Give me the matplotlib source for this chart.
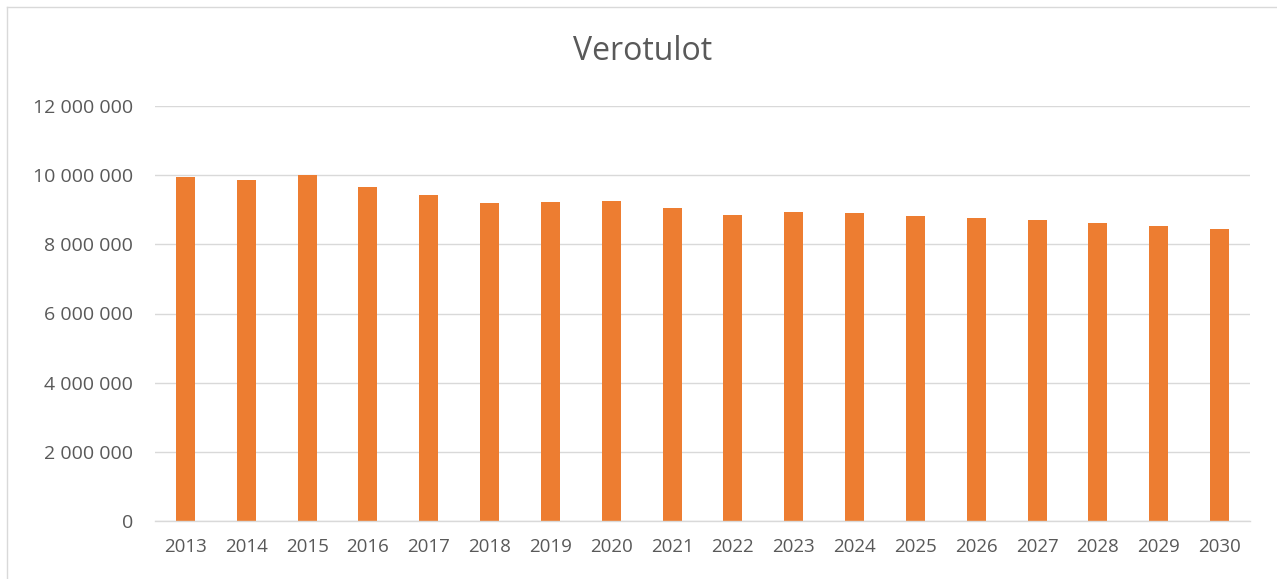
import matplotlib
matplotlib.use("Agg")
import matplotlib.pyplot as plt
import matplotlib.ticker as ticker
from matplotlib.lines import Line2D
import numpy as np

# ── Data ─────────────────────────────────────────────────────────────────────
years = ["2013", "2014", "2015", "2016", "2017", "2018", "2019", "2020", "2021",
         "2022", "2023", "2024", "2025", "2026", "2027", "2028", "2029", "2030"]
verotulot = [9960000, 9850000, 10000000, 9670000, 9440000, 9190000, 9230000,
             9260000, 9060000, 8850000, 8940000, 8920000, 8830000, 8750000,
             8690000, 8610000, 8540000, 8450000]
title = "Verotulot"
# ─────────────────────────────────────────────────────────────────────────────

plt.rcParams["font.family"] = ["Open Sans", "DejaVu Sans"]
text_color = "#595959"
grid_color = "#D9D9D9"
bar_color = "#ED7D31"

W, H = 1277, 579
fig = plt.figure(figsize=(W / 100, H / 100), dpi=100)
ax = fig.add_axes([155 / W, 1 - 521 / H, (1250 - 155) / W, (521 - 106) / H])

x = np.arange(len(years))
ax.bar(x, verotulot, 0.31, color=bar_color, zorder=3)

ax.set_xlim(-0.5, len(years) - 0.5)
ax.set_ylim(0, 12000000)
ax.set_yticks(np.arange(0, 12000001, 2000000))
ax.yaxis.set_major_formatter(
    ticker.FuncFormatter(lambda v, _: f"{int(v):,}".replace(",", " ")))
ax.set_xticks(x)
ax.set_xticklabels(years)

ax.tick_params(axis="both", length=0, labelcolor=text_color)
ax.tick_params(axis="y", pad=16, labelsize=14)
ax.tick_params(axis="x", pad=12, labelsize=13.5)

ax.yaxis.grid(True, color=grid_color, linewidth=1.0)
ax.set_axisbelow(True)
for side in ["top", "right", "left"]:
    ax.spines[side].set_visible(False)
ax.spines["bottom"].set_color(grid_color)
ax.spines["bottom"].set_linewidth(1.0)
ax.spines["bottom"].set_zorder(4)

fig.text(643 / W, 1 - 51 / H, title, ha="center", va="center",
         fontsize=23, color=text_color)

# chart area border (only top and left edges visible in the crop)
fig.add_artist(Line2D([7 / W, 1], [1 - 7 / H, 1 - 7 / H],
                      transform=fig.transFigure, color=grid_color, linewidth=1.0))
fig.add_artist(Line2D([7 / W, 7 / W], [0, 1 - 7 / H],
                      transform=fig.transFigure, color=grid_color, linewidth=1.0))

fig.savefig("out.png", dpi=100)
